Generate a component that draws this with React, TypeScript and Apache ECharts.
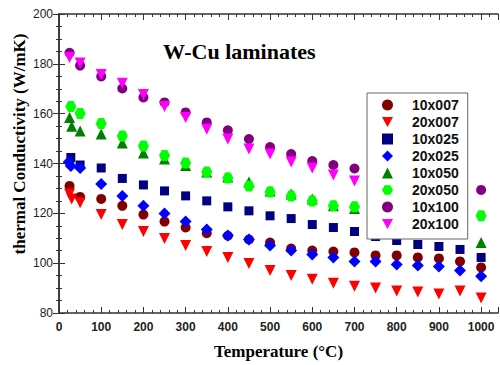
import React, { useEffect, useRef } from "react";
import * as echarts from "echarts";

// Tick labels / axis ranges
const X_TICKS = [0, 100, 200, 300, 400, 500, 600, 700, 800, 900, 1000];
const Y_TICKS = [80, 100, 120, 140, 160, 180, 200];

// Common temperature grid (°C)
const T_MAIN = [100, 150, 200, 250, 300, 350, 400, 450, 500, 550, 600, 650, 700, 750, 800, 850, 900, 950, 1000];
const T_LOW = [100, 150, 200, 250, 300, 350, 400, 450, 500, 550, 600, 650, 700];

// Series names
const NAMES = ["10x007", "20x007", "10x025", "20x025", "10x050", "20x050", "10x100", "20x100"];

// 10x007
const T_10x007 = [25, 50, ...T_MAIN];
const V_10x007 = [131, 126.6, 125.8, 123, 119.5, 116.7, 114.3, 112, 111, 109.5, 108.3, 105.9, 105.1, 104.7, 104.3, 103.1, 103.1, 102.3, 101.9, 100.7, 98.3];
// 20x007
const T_20x007 = [25, 30, 50, ...T_MAIN];
const V_20x007 = [127.8, 125.8, 124.2, 119.5, 115.5, 112.7, 109.9, 107.1, 104.7, 102.3, 99.9, 97.1, 95.1, 93.5, 91.9, 90.7, 90, 88.8, 88.4, 87.6, 88.8, 86];
// 10x025
const T_10x025 = [28, 50, ...T_MAIN];
const V_10x025 = [142.4, 139.4, 138.2, 134, 131.4, 129, 127, 125, 122.6, 121, 119, 117.9, 115.5, 114.3, 112.7, 110.7, 109.1, 107.5, 106.7, 105.5, 102.3];
// 20x025
const T_20x025 = [23, 28, 50, ...T_MAIN];
const V_20x025 = [140.6, 139, 138.2, 131.8, 127, 123, 119.9, 116.7, 113.5, 111.1, 109.5, 107.1, 105.1, 103.5, 102.3, 100.7, 100.7, 99.5, 99.1, 98.7, 97.1, 94.7];
// 10x050
const T_10x050 = [25, 30, 50, ...T_LOW, 1000];
const V_10x050 = [158.5, 155, 153, 151.8, 148.2, 144.2, 141.8, 139.2, 136.6, 134.6, 132.6, 129, 127.8, 125.8, 123, 121.9, 108.3];
// 20x050
const T_20x050 = [28, 50, ...T_LOW, 1000];
const V_20x050 = [162.9, 160.1, 156.1, 151, 147, 143.2, 140.2, 136.6, 134.2, 131, 128.6, 127, 125, 123, 122.6, 119];
// 10x100
const T_10x100 = [25, 50, ...T_LOW, 1000];
const V_10x100 = [184.4, 179.3, 174.9, 170.1, 166.5, 164.5, 160.5, 156.5, 153.3, 149.8, 146.6, 143.8, 141, 139.4, 138, 129.4];
// 20x100
const T_20x100 = [25, 50, ...T_LOW];
const V_20x100 = [182.5, 180.3, 175.7, 172.2, 167.7, 162.9, 158.5, 153.7, 149.8, 145.8, 143.8, 140.6, 138.2, 135.4, 133];

const COLORS = ["#800000", "#ff0000", "#000080", "#0000ff", "#008000", "#00ff00", "#800080", "#ff00ff"];
const HEX = "path://M5,0 L15,0 L20,8.66 L15,17.32 L5,17.32 L0,8.66 Z";
const TRI_DOWN = "path://M0,0 L10,0 L5,9 Z";
const SYMBOLS = ["circle", TRI_DOWN, "rect", "diamond", "triangle", HEX, "circle", TRI_DOWN];
const SIZES = [10, 11, 9, 12, 11, 11, 10, 11];

const XS = [T_10x007, T_20x007, T_10x025, T_20x025, T_10x050, T_20x050, T_10x100, T_20x100];
const YS = [V_10x007, V_20x007, V_10x025, V_20x025, V_10x050, V_20x050, V_10x100, V_20x100];

const SANS = "Arial, 'Liberation Sans', sans-serif";
const SERIF = "'Times New Roman', 'Liberation Serif', serif";

export default function App() {
  const ref = useRef<HTMLDivElement>(null);
  useEffect(() => {
    if (!ref.current) return;
    const chart = echarts.init(ref.current, null, { renderer: "svg" });
    const axisLine = { show: true, lineStyle: { color: "#333", width: 1.5 } };
    const xBase = {
      type: "value" as const,
      min: X_TICKS[0],
      max: 1040,
      interval: 100,
      splitLine: { show: false },
      axisLine,
      axisTick: { show: true, inside: true, length: 6, lineStyle: { color: "#333" } },
      minorTick: { show: true, splitNumber: 5, length: 3, lineStyle: { color: "#333" } },
    };
    const yBase = {
      type: "value" as const,
      min: Y_TICKS[0],
      max: Y_TICKS[Y_TICKS.length - 1],
      interval: 20,
      splitLine: { show: false },
      axisLine,
      axisTick: { show: true, inside: true, length: 6, lineStyle: { color: "#333" } },
      minorTick: { show: true, splitNumber: 4, length: 3, lineStyle: { color: "#333" } },
    };
    chart.setOption({
      animation: false,
      backgroundColor: "#ffffff",
      title: {
        text: "W-Cu laminates",
        left: 163,
        top: 40,
        padding: 0,
        textStyle: { fontFamily: SERIF, fontWeight: "bold", fontSize: 22, color: "#000" },
      },
      grid: { left: 59, right: 2, top: 14, bottom: 50 },
      legend: {
        orient: "vertical",
        left: 367,
        top: 93,
        padding: [5, 9, 8, 15],
        itemWidth: 11,
        itemHeight: 11,
        itemGap: 3,
        backgroundColor: "#ffffff",
        borderColor: "#666",
        borderWidth: 1,
        textStyle: {
          fontFamily: SANS,
          fontWeight: "bold",
          fontSize: 14,
          color: "#111",
          padding: [0, 0, 0, 14],
        },
        data: NAMES.map((name, i) => ({ name, icon: SYMBOLS[i] })),
      },
      xAxis: [
        {
          ...xBase,
          position: "bottom",
          name: "Temperature (°C)",
          nameLocation: "middle",
          nameGap: 30,
          nameTextStyle: { fontFamily: SERIF, fontWeight: "bold", fontSize: 17, color: "#000" },
          axisLabel: {
            margin: 8,
            showMaxLabel: false,
            fontFamily: SANS,
            fontWeight: "bold",
            fontSize: 12,
            color: "#222",
            formatter: (v: number) => String(v),
          },
        },
        { ...xBase, position: "top", axisLabel: { show: false } },
      ],
      yAxis: [
        {
          ...yBase,
          position: "left",
          axisLabel: { margin: 6, fontFamily: SANS, fontSize: 12, color: "#222" },
        },
        { ...yBase, position: "right", axisLabel: { show: false } },
      ],
      graphic: [
        {
          type: "text",
          x: 19,
          y: 144,
          rotation: Math.PI / 2,
          style: {
            text: "thermal Conductivity (W/mK)",
            fontFamily: SERIF,
            fontWeight: "bold",
            fontSize: 17,
            fill: "#000",
            align: "center",
            verticalAlign: "middle",
          },
        },
      ],
      series: NAMES.map((name, i) => ({
        name,
        type: "scatter",
        xAxisIndex: 0,
        yAxisIndex: 0,
        symbol: SYMBOLS[i],
        symbolSize: SIZES[i],
        itemStyle: { color: COLORS[i], opacity: 1 },
        data: XS[i].map((t, k) => [t, YS[i][k]]),
      })),
    });
    return () => chart.dispose();
  }, []);
  return <div ref={ref} style={{ width: 500, height: 365, position: "absolute", left: 0, top: 0 }} />;
}
